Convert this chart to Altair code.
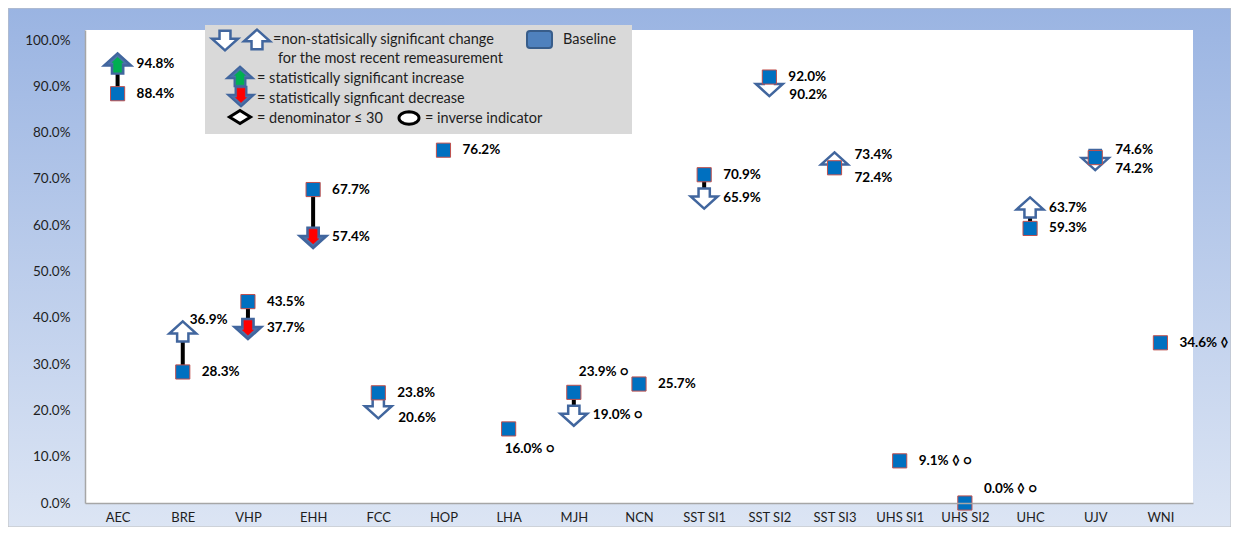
import math
import altair as alt
import pandas as pd

# ---------------- data ----------------
categories = ["AEC", "BRE", "VHP", "EHH", "FCC", "HOP", "LHA", "MJH", "NCN",
              "SST SI1", "SST SI2", "SST SI3", "UHS SI1", "UHS SI2", "UHC", "UJV", "WNI"]
baseline = [88.4, 28.3, 43.5, 67.7, 23.8, 76.2, 16.0, 23.9, 25.7,
            70.9, 92.0, 72.4, 9.1, 0.0, 59.3, 74.6, 34.6]
remeasurement = [94.8, 36.9, 37.7, 57.4, 20.6, None, None, 19.0, None,
                 65.9, 90.2, 73.4, None, None, 63.7, 74.2, None]
change = ["sig_up", "ns_up", "sig_down", "sig_down", "ns_down", None, None, "ns_down", None,
          "ns_down", "ns_down", "ns_up", None, None, "ns_up", "ns_down", None]
small_denominator = ["UHS SI1", "UHS SI2", "WNI"]
inverse_indicator = ["LHA", "MJH", "UHS SI1", "UHS SI2"]
baseline_label_side = ["r", "r", "r", "r", "r", "r", "below", "up_far", "r",
                       "r", "r", "r_down", "r", "up_right", "r", "r_up", "r"]
remeasure_label_side = ["r", "up_near", "r", "r", "r_down", None, None, "r", None,
                        "r", "r_down", "r_up", None, None, "r", "r_down", None]

# ---------------- styling ----------------
W, H = 1108, 473
YMAX = 1.0216
TOP = 22
FONT = "Lato"
TXT = "#1E1E1E"
LEG_FS = 14.5
ARROW_BLUE = "#41669E"
ARROW_FILL_SIG = "#4C72AA"
OFFSETS = {"r": (19, 0), "r_down": (20, 10), "r_up": (20, -8), "up_near": (7, -12),
           "up_far": (5, -20), "up_right": (19, -14), "below": (-4, 20)}

UP_OUT = "M0,-0.8L1,0.1L0.42,0.1L0.42,0.7L-0.42,0.7L-0.42,0.1L-1,0.1Z"
DOWN_OUT = "M0,0.8L1,-0.1L0.42,-0.1L0.42,-0.7L-0.42,-0.7L-0.42,-0.1L-1,-0.1Z"
UP_IN = "M0,-0.5L0.42,-0.12L0.3,-0.12L0.3,0.6L-0.3,0.6L-0.3,-0.12L-0.42,-0.12Z"
DOWN_IN = "M0,0.5L0.42,0.12L0.3,0.12L0.3,-0.6L-0.3,-0.6L-0.3,0.12L-0.42,0.12Z"
DIAMOND = "M-1,0L0,-0.62L1,0L0,0.62Z"
ELLIPSE = "M" + "L".join(
    f"{math.cos(2 * math.pi * i / 36):.3f},{0.62 * math.sin(2 * math.pi * i / 36):.3f}"
    for i in range(36)) + "Z"

# ---------------- tables ----------------
def suffix(c):
    s = ""
    if c in small_denominator:
        s += " \u25ca"
    if c in inverse_indicator:
        s += " \u25cb"
    return s

base_df = pd.DataFrame({"category": categories,
                        "value": [v / 100 for v in baseline]})
pair_rows, label_rows = [], []
for i, c in enumerate(categories):
    label_rows.append({"category": c, "value": baseline[i] / 100,
                       "text": f"{baseline[i]:.1f}%" + suffix(c), "side": baseline_label_side[i]})
    if remeasurement[i] is not None:
        pair_rows.append({"category": c, "value": baseline[i] / 100,
                          "value2": remeasurement[i] / 100,
                          "rem": remeasurement[i] / 100, "change": change[i]})
        label_rows.append({"category": c, "value": remeasurement[i] / 100,
                           "text": f"{remeasurement[i]:.1f}%" + suffix(c),
                           "side": remeasure_label_side[i]})
pair_df = pd.DataFrame(pair_rows)
label_df = pd.DataFrame(label_rows)
one = pd.DataFrame({"k": [0]})

xscale = alt.Scale(type="point", domain=categories, padding=0.5)
yscale = alt.Scale(domain=[0, YMAX], nice=False, zero=True)
xaxis = alt.Axis(title=None, labelAngle=0, ticks=False, tickSize=0, labelPadding=8,
                 labelFont=FONT, labelFontSize=13, labelColor=TXT,
                 domainColor="#A6A6A6", domainWidth=1.5, grid=False, zindex=1)
yaxis = alt.Axis(title=None, ticks=False, tickSize=0, labelPadding=15, format=".1%",
                 values=[i / 10 for i in range(11)], labelFont=FONT, labelFontSize=13.5,
                 labelColor=TXT, domainColor="#A6A6A6", domainWidth=1.5, grid=False, zindex=1)


def X():
    return alt.X("category:N", scale=xscale, axis=xaxis)


def Y(field="value"):
    return alt.Y(f"{field}:Q", scale=yscale, axis=yaxis)


layers = []

# background gradient frame
layers.append(alt.Chart(one).mark_rect(
    fill={"gradient": "linear", "x1": 0, "y1": 0, "x2": 0, "y2": 1,
          "stops": [{"offset": 0, "color": "#9AB4E2"}, {"offset": 1, "color": "#DCE5F4"}]},
    stroke="#BFBFBF", strokeWidth=1
).encode(x=alt.value(-77), x2=alt.value(W + 38), y=alt.value(-TOP), y2=alt.value(H + 24)))
# white plot area
layers.append(alt.Chart(one).mark_rect(fill="white").encode(
    x=alt.value(0), x2=alt.value(W), y=alt.value(0), y2=alt.value(H)))

# ---------------- legend ----------------
layers.append(alt.Chart(one).mark_rect(fill="#D9D9D9").encode(
    x=alt.value(120), x2=alt.value(547), y=alt.value(-5), y2=alt.value(104)))


def lg_point(x, y, shape, size, fill, stroke, sw):
    return alt.Chart(one).mark_point(shape=shape, size=size, filled=True, fill=fill,
                                     stroke=stroke, strokeWidth=sw, opacity=1).encode(
        x=alt.value(x), y=alt.value(y))


def lg_text(x, y, t):
    return alt.Chart(one).mark_text(align="left", baseline="middle", font=FONT,
                                    fontSize=LEG_FS, color=TXT).encode(
        x=alt.value(x), y=alt.value(y), text=alt.value(t))


layers += [
    lg_point(140, 10, DOWN_OUT, 680, "white", ARROW_BLUE, 2.5),
    lg_point(172, 10, UP_OUT, 680, "white", ARROW_BLUE, 2.5),
    lg_text(188, 10, "=non-statisically significant change"),
    lg_text(193, 29, "for the most recent remeasurement"),
    lg_point(155, 47, UP_OUT, 680, ARROW_FILL_SIG, ARROW_BLUE, 2),
    lg_point(155, 47, UP_IN, 680, "#00B050", "#00B050", 0.5),
    lg_text(172, 49, "= statistically significant increase"),
    lg_point(156, 66, DOWN_OUT, 680, ARROW_FILL_SIG, ARROW_BLUE, 2),
    lg_point(156, 66, DOWN_IN, 680, "#FF0000", "#FF0000", 0.5),
    lg_text(172, 69, "= statistically signficant decrease"),
    lg_point(155, 87, DIAMOND, 441, "white", "black", 3),
    lg_text(172, 89, "= denominator \u2264 30"),
    lg_point(324, 88, ELLIPSE, 400, "white", "black", 3),
    lg_text(340, 89, "= inverse indicator"),
    lg_text(478, 10, "Baseline"),
]
layers.append(alt.Chart(one).mark_rect(fill="#4F81BD", stroke="#385D8A", strokeWidth=2,
                                       cornerRadius=3).encode(
    x=alt.value(442), x2=alt.value(467), y=alt.value(1), y2=alt.value(18)))

# ---------------- data marks ----------------
layers.append(alt.Chart(pair_df).mark_rule(color="black", strokeWidth=4).encode(
    x=X(), y=Y(), y2="value2:Q"))

for kind, shape, fill in [("ns_up", UP_OUT, "white"), ("ns_down", DOWN_OUT, "white"),
                          ("sig_up", UP_OUT, ARROW_FILL_SIG), ("sig_down", DOWN_OUT, ARROW_FILL_SIG)]:
    layers.append(alt.Chart(pair_df).transform_filter(alt.datum.change == kind).mark_point(
        shape=shape, size=720, filled=True, fill=fill, stroke=ARROW_BLUE,
        strokeWidth=2.5, opacity=1).encode(x=X(), y=Y("rem")))
for kind, shape, fill in [("sig_up", UP_IN, "#00B050"), ("sig_down", DOWN_IN, "#FF0000")]:
    layers.append(alt.Chart(pair_df).transform_filter(alt.datum.change == kind).mark_point(
        shape=shape, size=720, filled=True, fill=fill, stroke=fill,
        strokeWidth=0.5, opacity=1).encode(x=X(), y=Y("rem")))

layers.append(alt.Chart(base_df).mark_point(
    shape="square", size=200, filled=True, fill="#0070C0", stroke="#C0504D",
    strokeWidth=1, opacity=1).encode(x=X(), y=Y()))

for side, (dx, dy) in OFFSETS.items():
    layers.append(alt.Chart(label_df).transform_filter(alt.datum.side == side).mark_text(
        align="left", baseline="middle", dx=dx, dy=dy, font=FONT, fontSize=13.5,
        fontWeight="bold", color="black").encode(x=X(), y=Y(), text="text:N"))

chart = alt.layer(*layers).properties(
    width=W, height=H,
    padding={"left": 77, "top": TOP, "right": 38, "bottom": 24},
    autosize=alt.AutoSizeParams(type="none"),
).configure_view(stroke=None).configure(background="white")

chart.save("out.html", embed_options={"renderer": "svg", "actions": False})
